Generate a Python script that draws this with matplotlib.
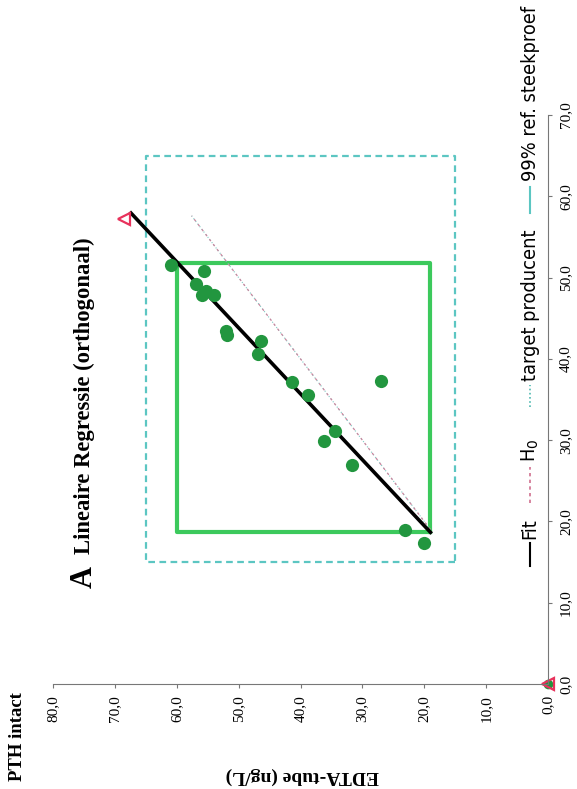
import numpy as np
import matplotlib.pyplot as plt
from matplotlib.lines import Line2D

# values read off the (90 deg rotated) picture
# ref = horizontal axis of the original chart (0..70), edta = vertical (0..80)
ref_tube = [51.5, 50.8, 49.2, 48.3, 47.9, 47.8, 43.4, 42.9, 42.2, 40.6,
            37.1, 37.3, 35.5, 31.1, 29.9, 27.0, 19.0, 17.4]
edta_tube = [61.0, 55.6, 56.9, 55.3, 55.9, 53.9, 52.0, 51.8, 46.4, 46.8,
             41.4, 27.0, 38.8, 34.4, 36.2, 31.6, 23.1, 20.0]
fit_ref = [18.5, 58.1]
fit_edta = [18.8, 67.6]
h0_ref = [19.0, 57.6]
h0_edta = [19.0, 57.6]
tri_ref = [0.0, 57.2]
tri_edta = [0.0, 68.5]
box_ref = [18.7, 51.8]
box_edta = [19.0, 60.0]
ref99_ref = [15.0, 65.0]
ref99_edta = [15.0, 65.0]
ref_ticks = np.arange(0, 71, 10)
edta_ticks = np.arange(0, 81, 10)

serif = ['Liberation Serif', 'DejaVu Serif']
sans = ['DejaVu Sans']

W, H = 577, 789
fig = plt.figure(figsize=(W / 100, H / 100), dpi=100)
ax = fig.add_axes([53 / W, 1 - 684 / H, (548 - 53) / W, (684 - 115) / H])
ax.set_xlim(80, 0)
ax.set_ylim(0, 70)

# 99% reference box (dashed) and sample box (solid green)
x0, x1 = ref99_edta
y0, y1 = ref99_ref
ax.plot([x0, x1, x1, x0, x0], [y0, y0, y1, y1, y0], ls=(0, (3, 2)),
        color='#5cc6c2', lw=1.6)
x0, x1 = box_edta
y0, y1 = box_ref
ax.plot([x0, x1, x1, x0, x0], [y0, y0, y1, y1, y0], color='#3cc95c', lw=3)

ax.plot(h0_edta, h0_ref, ls=(0, (1, 2)), color='#7fc9c4', lw=0.8)
ax.plot(h0_edta, h0_ref, ls=(0, (2, 3)), color='#c8869e', lw=0.9)
ax.plot(fit_edta, fit_ref, color='black', lw=2.6, solid_capstyle='butt')
ax.plot(edta_tube, ref_tube, 'o', color='#22963f', ms=9.5, mec='none')
ax.plot([0], [0], 'o', color='#22963f', ms=7, mec='none', clip_on=False)
ax.plot(tri_edta, tri_ref, '<', mfc='none', mec='#e8325c', mew=1.6, ms=8,
        clip_on=False)

for s in ['top', 'left']:
    ax.spines[s].set_visible(False)
ax.spines['bottom'].set_color('#777777')
ax.spines['right'].set_color('#777777')
ax.yaxis.tick_right()
ax.set_xticks(edta_ticks)
ax.set_yticks(ref_ticks)
ax.set_xticklabels([f'{v:.1f}'.replace('.', ',') for v in edta_ticks],
                   rotation=90, family=serif, fontsize=11)
ax.set_yticklabels([f'{v:.1f}'.replace('.', ',') for v in ref_ticks],
                   rotation=90, family=serif, fontsize=11, va='center')
ax.tick_params(length=3, width=0.8, color='#777777', pad=5)

# texts (whole chart is turned 90 degrees)
fig.text(18 / W, 1 - 737 / H, 'PTH intact', rotation=90, family=serif,
         weight='bold', fontsize=13.5, ha='center', va='center')
fig.text(84 / W, 1 - 577 / H, 'A', rotation=90, family=serif,
         weight='bold', fontsize=22, ha='center', va='center')
fig.text(84 / W, 1 - 396 / H, 'Lineaire Regressie (orthogonaal)', rotation=90,
         family=serif, weight='bold', fontsize=16.3, ha='center', va='center')
fig.text(302 / W, 1 - 776 / H, 'EDTA-tube (ng/L)', rotation=180, family=serif,
         weight='bold', fontsize=14, ha='center', va='center')

# legend, drawn by hand because it is rotated
LX = 530

def leg_line(y_from, y_to, **kw):
    fig.add_artist(Line2D([LX / W, LX / W], [1 - y_from / H, 1 - y_to / H],
                          transform=fig.transFigure, **kw))

def leg_text(y_bottom, s):
    fig.text(LX / W, 1 - y_bottom / H, s, rotation=90, family=sans,
             fontstretch='condensed', fontsize=14.3, ha='center', va='bottom')

leg_line(566, 543, color='black', lw=1.5)
leg_text(539, 'Fit')
leg_line(503, 467, color='#d0708f', lw=1.2, ls=(0, (2, 2)))
leg_text(462, 'H$_0$')
leg_line(407, 385, color='#4fb9b0', lw=1.2, ls=(0, (1, 1.5)))
leg_text(381, 'target producent')
leg_line(213, 187, color='#5cc6c2', lw=1.5)
leg_text(181, '99% ref. steekproef')

fig.savefig('out.png', dpi=100)
plt.close(fig)
